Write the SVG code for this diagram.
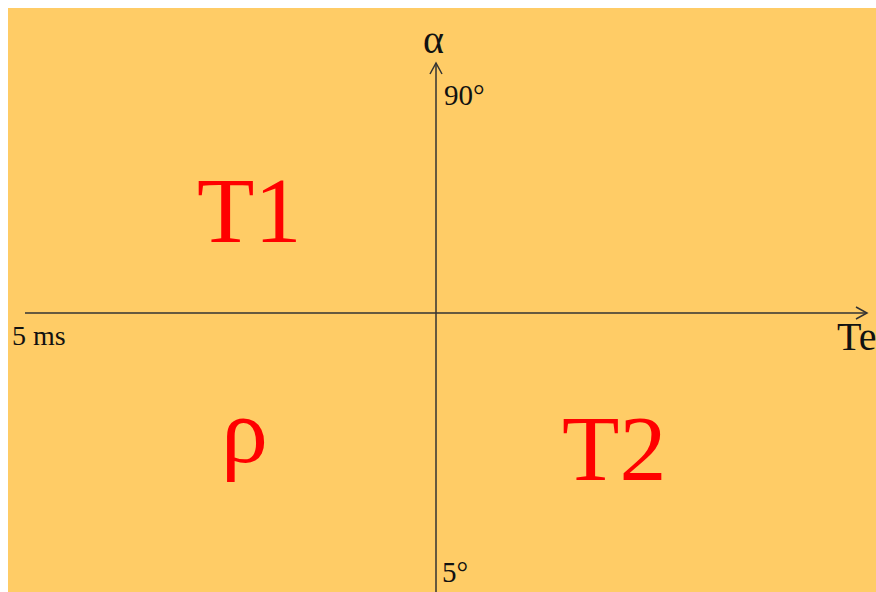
<svg xmlns="http://www.w3.org/2000/svg" width="876" height="592" viewBox="0 0 876 592">
<style>
.ax{stroke:#333;stroke-width:1.5;fill:none}
.lbl{font-family:"Liberation Serif",serif;fill:#111}
.big{font-family:"Liberation Serif",serif;fill:#ff0000;font-size:94px}
</style>
<rect x="0" y="0" width="876" height="592" fill="#ffffff"/>
<rect x="8" y="8" width="868" height="584" fill="#ffcc66"/>
<g id="connectors">
<line class="ax" x1="436" y1="592" x2="436" y2="63"/>
<polyline class="ax" points="430,74 436,63 442,74"/>
<line class="ax" x1="25" y1="313" x2="867" y2="313"/>
<polyline class="ax" points="856,307 867,313 856,319"/>
</g>
<g id="labels">
<text class="lbl" x="423" y="53" font-size="40">α</text>
<text class="lbl" x="444" y="105" font-size="29">90°</text>
<text class="lbl" x="12" y="345" font-size="28">5 ms</text>
<text class="lbl" x="837" y="350" font-size="40">Te</text>
<text class="lbl" x="442" y="582" font-size="29">5°</text>
</g>
<g id="T1"><text class="big" x="197" y="242">T1</text></g>
<g id="rho"><text class="big" x="221" y="462">ρ</text></g>
<g id="T2"><text class="big" x="562" y="480">T2</text></g>
</svg>
